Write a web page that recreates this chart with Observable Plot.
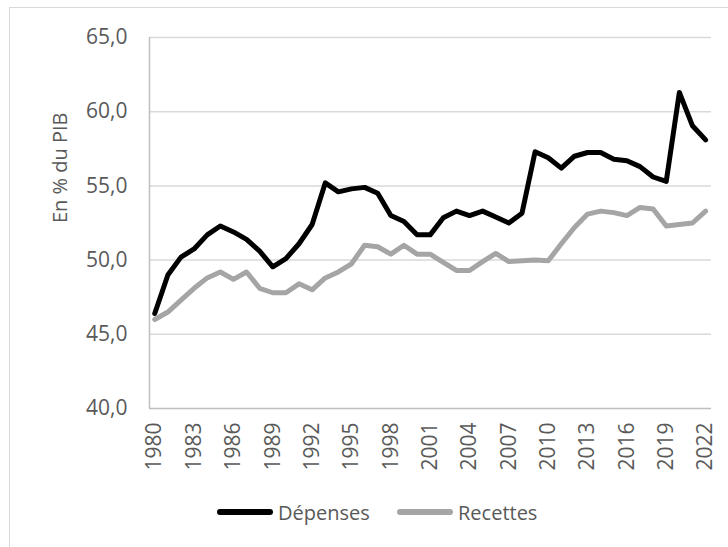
<!DOCTYPE html>
<html>
<head>
<meta charset="utf-8">
<script src="https://cdn.jsdelivr.net/npm/d3@7"></script>
<script src="https://cdn.jsdelivr.net/npm/@observablehq/plot@0.6"></script>
<style>
  html, body { margin: 0; padding: 0; background: #fff; }
  #wrap { position: relative; width: 728px; height: 547px; overflow: hidden; font-family: "Open Sans", sans-serif; }
  #frame { position: absolute; left: 9px; top: 7px; width: 760px; height: 600px; border: 1.5px solid #d9d9d9; box-sizing: border-box; }
  #chart { position: absolute; left: 0; top: 0; }
  #legend { position: absolute; left: 0; top: 497px; width: 728px; height: 30px; }
  .item { position: absolute; top: 0; height: 30px; display: flex; align-items: center; }
  .sw { width: 56px; height: 6px; border-radius: 3px; margin-right: 5px; }
  .lab { font-size: 20px; color: #595959; }
</style>
</head>
<body>
<div id="wrap">
  <div id="frame"></div>
  <div id="chart"></div>
  <div id="legend"></div>
</div>
<script>
const years = [1980,1981,1982,1983,1984,1985,1986,1987,1988,1989,
  1990,1991,1992,1993,1994,1995,1996,1997,1998,1999,
  2000,2001,2002,2003,2004,2005,2006,2007,2008,2009,
  2010,2011,2012,2013,2014,2015,2016,2017,2018,2019,
  2020,2021,2022];
const depenses = [46.4,49.0,50.2,50.75,51.7,52.3,51.9,51.4,50.6,49.55,
  50.1,51.1,52.4,55.2,54.6,54.8,54.9,54.5,53.0,52.6,
  51.7,51.7,52.85,53.3,53.0,53.3,52.9,52.5,53.15,57.3,
  56.9,56.2,57.0,57.25,57.25,56.8,56.7,56.3,55.6,55.3,
  61.3,59.05,58.1];
const recettes = [46.0,46.5,47.3,48.1,48.8,49.2,48.7,49.2,48.1,47.8,
  47.8,48.4,48.0,48.8,49.2,49.75,51.0,50.9,50.4,51.0,
  50.4,50.4,49.85,49.3,49.3,49.9,50.45,49.9,49.95,50.0,
  49.95,51.1,52.2,53.1,53.3,53.2,53.0,53.55,53.45,52.3,
  52.4,52.5,53.3];
const seriesNames = ["Dépenses", "Recettes"];
const seriesColors = ["#000000", "#a5a5a5"];
const xTicks = [1980,1983,1986,1989,1992,1995,1998,2001,2004,2007,2010,2013,2016,2019,2022];
const yTicks = [40,45,50,55,60,65];
const yTitle = "En % du PIB";

const data = [];
years.forEach((y, i) => {
  data.push({year: y, value: depenses[i], series: seriesNames[0]});
});
years.forEach((y, i) => {
  data.push({year: y, value: recettes[i], series: seriesNames[1]});
});
const fmt = d => d3.format(".1f")(d).replace(".", ",");

const chart = Plot.plot({
  width: 728,
  height: 480,
  marginLeft: 149,
  marginRight: 17,
  marginTop: 37,
  marginBottom: 72,
  style: {fontFamily: "Open Sans, sans-serif", background: "transparent", overflow: "visible"},
  x: {domain: [1979.6, 2022.45]},
  y: {domain: [40, 65]},
  color: {domain: seriesNames, range: seriesColors},
  marks: [
    Plot.ruleY(yTicks.filter(d => d > 40), {stroke: "#d9d9d9", strokeWidth: 1.5}),
    Plot.ruleY([40], {stroke: "#bfbfbf", strokeWidth: 1.5}),
    Plot.ruleX([1979.6], {y1: 40, y2: 65, stroke: "#bfbfbf", strokeWidth: 1.5}),
    Plot.axisY({ticks: yTicks, tickSize: 0, tickPadding: 22, tickFormat: fmt, fontSize: 21, fill: "#595959", label: null}),
    Plot.axisX({ticks: xTicks, tickSize: 0, tickPadding: 14, tickRotate: -90, tickFormat: d => String(d), fontSize: 21, fill: "#595959", label: null}),
    Plot.text([yTitle], {frameAnchor: "left", rotate: -90, dx: -89, fontSize: 20, fill: "#595959"}),
    Plot.line(data.filter(d => d.series === seriesNames[0]), {x: "year", y: "value", stroke: "series", strokeWidth: 5, strokeLinejoin: "round", strokeLinecap: "round"}),
    Plot.line(data.filter(d => d.series === seriesNames[1]), {x: "year", y: "value", stroke: "series", strokeWidth: 5, strokeLinejoin: "round", strokeLinecap: "round"})
  ]
});
document.getElementById("chart").appendChild(chart);

const legendPos = [217, 397];
const legend = document.getElementById("legend");
seriesNames.forEach((name, i) => {
  const item = document.createElement("div");
  item.className = "item";
  item.style.left = legendPos[i] + "px";
  const sw = document.createElement("div");
  sw.className = "sw";
  sw.style.background = seriesColors[i];
  const lab = document.createElement("span");
  lab.className = "lab";
  lab.textContent = name;
  item.appendChild(sw);
  item.appendChild(lab);
  legend.appendChild(item);
});
</script>
</body>
</html>
